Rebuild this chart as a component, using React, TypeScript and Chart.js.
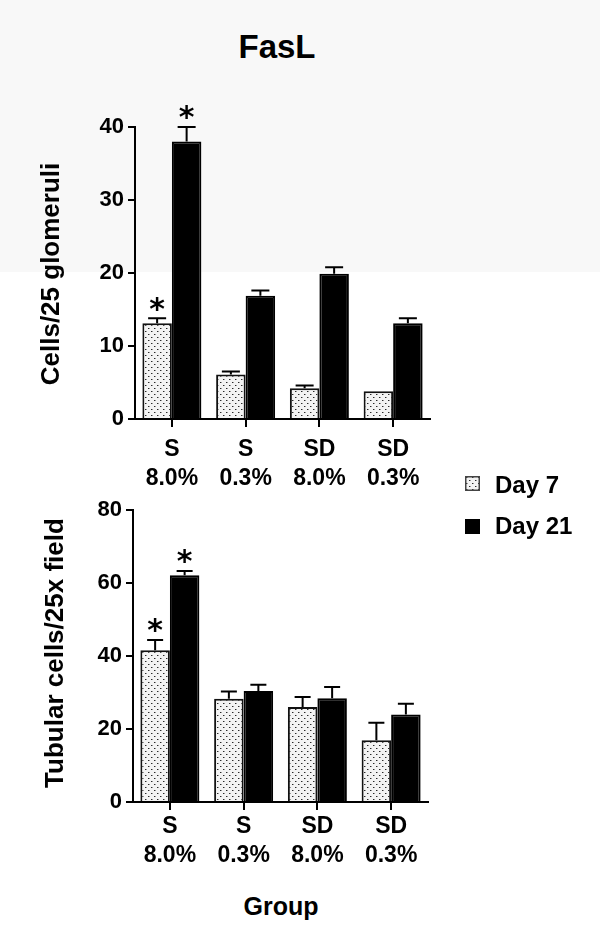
import React, { useEffect, useRef } from "react";
import { Chart, registerables } from "chart.js";

Chart.register(...registerables);

// ---------- data ----------
const groupLabels: string[][] = [
  ["S", "8.0%"],
  ["S", "0.3%"],
  ["SD", "8.0%"],
  ["SD", "0.3%"],
];
const seriesNames = ["Day 7", "Day 21"];

// Top panel: Cells/25 glomeruli
const glomDay7 = [13.1, 6.1, 4.2, 3.8];
const glomDay7Err = [0.7, 0.4, 0.4, 0];
const glomDay21 = [38.0, 16.9, 19.9, 13.1];
const glomDay21Err = [2.0, 0.7, 0.9, 0.7];
const glomDay7Sig = [true, false, false, false];
const glomDay21Sig = [true, false, false, false];
const glomTicks = [0, 10, 20, 30, 40];

// Bottom panel: Tubular cells/25x field
const tubDay7 = [41.6, 28.3, 26.0, 16.9];
const tubDay7Err = [2.8, 2.0, 2.8, 4.8];
const tubDay21 = [62.1, 30.4, 28.4, 24.0];
const tubDay21Err = [1.2, 1.7, 3.1, 2.9];
const tubDay7Sig = [true, false, false, false];
const tubDay21Sig = [true, false, false, false];
const tubTicks = [0, 20, 40, 60, 80];

const titleText = "FasL";
const glomAxisTitle = "Cells/25 glomeruli";
const tubAxisTitle = "Tubular cells/25x field";
const xAxisTitle = "Group";

const FONT = "'Liberation Sans', Arial, Helvetica, sans-serif";

function makeDotPattern(ctx: CanvasRenderingContext2D): CanvasPattern | string {
  const c = document.createElement("canvas");
  c.width = 6;
  c.height = 6;
  const g = c.getContext("2d");
  if (!g) return "#ddd";
  g.fillStyle = "#f3f3f3";
  g.fillRect(0, 0, 6, 6);
  g.fillStyle = "#2a2a2a";
  g.fillRect(1, 1, 1, 1);
  g.fillRect(4, 4, 1, 1);
  g.fillStyle = "#9a9a9a";
  g.fillRect(2, 1, 1, 1);
  g.fillRect(5, 4, 1, 1);
  return ctx.createPattern(c, "repeat") || "#ddd";
}

const errorBarPlugin = {
  id: "errorBars",
  afterDatasetsDraw(chart: any) {
    const ctx: CanvasRenderingContext2D = chart.ctx;
    const yScale = chart.scales.y;
    chart.data.datasets.forEach((ds: any, i: number) => {
      const meta = chart.getDatasetMeta(i);
      meta.data.forEach((el: any, j: number) => {
        const v = ds.data[j];
        const e = ds.errors ? ds.errors[j] : 0;
        const yTop = yScale.getPixelForValue(v + e);
        const cap = ds.capWidth || 16;
        ctx.save();
        ctx.strokeStyle = "#000";
        ctx.lineWidth = 2;
        if (e > 0) {
          ctx.beginPath();
          ctx.moveTo(el.x, el.y);
          ctx.lineTo(el.x, yTop);
          ctx.moveTo(el.x - cap / 2, yTop);
          ctx.lineTo(el.x + cap / 2, yTop);
          ctx.stroke();
        }
        if (ds.sig && ds.sig[j]) {
          const size = 30;
          ctx.fillStyle = "#000";
          ctx.font = `bold ${size}px 'DejaVu Sans', sans-serif`;
          ctx.textAlign = "center";
          ctx.textBaseline = "alphabetic";
          const cy = yTop - 17;
          ctx.fillText("*", el.x, cy + 0.58 * size);
        }
        ctx.restore();
      });
    });
  },
};

type PanelProps = {
  day7: number[];
  day7Err: number[];
  day7Sig: boolean[];
  day21: number[];
  day21Err: number[];
  day21Sig: boolean[];
  ticks: number[];
  top: number; // canvas top on page
  height: number;
  areaTop: number; // chart-area top within canvas
  axisLeft: number; // page x of y axis
  axisRight: number; // page x of chart right edge
  xAxisHeight: number;
  xLabelPad: number;
  capWidth: number;
};

function BarPanel(p: PanelProps) {
  const ref = useRef<HTMLCanvasElement | null>(null);
  useEffect(() => {
    const canvas = ref.current;
    if (!canvas) return;
    const ctx = canvas.getContext("2d");
    if (!ctx) return;
    const pattern = makeDotPattern(ctx);
    const tickFont = { family: FONT, size: 22, weight: "bold" as const };
    const xFont = { family: FONT, size: 23, weight: "bold" as const, lineHeight: 1.23 };
    const yMax = p.ticks[p.ticks.length - 1];
    const step = p.ticks[1] - p.ticks[0];
    const chart = new Chart(ctx, {
      type: "bar",
      data: {
        labels: groupLabels,
        datasets: [
          {
            label: seriesNames[0],
            data: p.day7,
            errors: p.day7Err,
            sig: p.day7Sig,
            capWidth: p.capWidth,
            backgroundColor: pattern,
            borderColor: "#111",
            borderWidth: 2,
            borderSkipped: "bottom",
          } as any,
          {
            label: seriesNames[1],
            data: p.day21,
            errors: p.day21Err,
            sig: p.day21Sig,
            capWidth: p.capWidth,
            backgroundColor: "#000",
            borderColor: "#000",
            borderWidth: 2,
            borderSkipped: "bottom",
          } as any,
        ],
      },
      options: {
        animation: false,
        responsive: false,
        maintainAspectRatio: false,
        events: [],
        layout: {
          padding: { top: p.areaTop, right: 600 - p.axisRight, left: 0, bottom: 0 },
        },
        datasets: {
          bar: { categoryPercentage: 0.8, barPercentage: 1.0 },
        },
        plugins: {
          legend: { display: false },
          tooltip: { enabled: false },
          title: { display: false },
        },
        scales: {
          x: {
            type: "category",
            offset: true,
            grid: {
              offset: false,
              drawOnChartArea: false,
              drawTicks: true,
              tickLength: 8,
              tickWidth: 2,
              tickColor: "#000",
              color: "#000",
              lineWidth: 2,
            },
            border: { display: true, color: "#000", width: 2 },
            ticks: {
              color: "#000",
              font: xFont,
              padding: p.xLabelPad,
              maxRotation: 0,
              autoSkip: false,
            },
            afterFit: (s: any) => {
              s.height = p.xAxisHeight;
            },
          },
          y: {
            min: 0,
            max: yMax,
            grid: {
              drawOnChartArea: false,
              drawTicks: true,
              tickLength: 7,
              tickWidth: 2,
              tickColor: "#000",
              color: "#000",
              lineWidth: 2,
            },
            border: { display: true, color: "#000", width: 2 },
            ticks: {
              stepSize: step,
              color: "#000",
              font: tickFont,
              padding: 4,
            },
            afterFit: (s: any) => {
              s.width = p.axisLeft;
            },
          },
        },
      } as any,
      plugins: [errorBarPlugin],
    });
    return () => chart.destroy();
  }, []);
  return (
    <canvas
      ref={ref}
      width={600}
      height={p.height}
      style={{ position: "absolute", left: 0, top: p.top, width: 600, height: p.height }}
    />
  );
}

function LegendBox({ filled }: { filled: boolean }) {
  const ref = useRef<HTMLCanvasElement | null>(null);
  useEffect(() => {
    const c = ref.current;
    if (!c) return;
    const ctx = c.getContext("2d");
    if (!ctx) return;
    ctx.clearRect(0, 0, 15, 15);
    if (filled) {
      ctx.fillStyle = "#000";
      ctx.fillRect(0, 0, 15, 15);
    } else {
      ctx.fillStyle = makeDotPattern(ctx);
      ctx.fillRect(0, 0, 15, 15);
      ctx.strokeStyle = "#444";
      ctx.lineWidth = 1.5;
      ctx.strokeRect(0.75, 0.75, 13.5, 13.5);
    }
  }, [filled]);
  return <canvas ref={ref} width={15} height={15} style={{ width: 15, height: 15, display: "block" }} />;
}

function Text({
  text,
  cx,
  baseline,
  size,
  left,
}: {
  text: string;
  cx?: number;
  baseline: number;
  size: number;
  left?: number;
}) {
  const top = baseline - 0.8465 * size;
  const style: React.CSSProperties = {
    position: "absolute",
    top,
    fontFamily: FONT,
    fontWeight: "bold",
    fontSize: size,
    lineHeight: `${size}px`,
    color: "#000",
    whiteSpace: "nowrap",
  };
  if (left !== undefined) {
    style.left = left;
  } else {
    style.left = (cx as number) - 200;
    style.width = 400;
    style.textAlign = "center";
  }
  return <div style={style}>{text}</div>;
}

function VText({ text, baselineX, cy, size }: { text: string; baselineX: number; cy: number; size: number }) {
  const cx = baselineX - 0.3465 * size;
  const w = 400;
  return (
    <div
      style={{
        position: "absolute",
        left: cx - w / 2,
        top: cy - size / 2,
        width: w,
        height: size,
        lineHeight: `${size}px`,
        fontFamily: FONT,
        fontWeight: "bold",
        fontSize: size,
        textAlign: "center",
        whiteSpace: "nowrap",
        color: "#000",
        transform: "rotate(-90deg)",
        transformOrigin: "50% 50%",
      }}
    >
      {text}
    </div>
  );
}

export default function App() {
  return (
    <div
      style={{
        position: "absolute",
        left: 0,
        top: 0,
        width: 600,
        height: 940,
        overflow: "hidden",
        background: "linear-gradient(to bottom, #f8f8f8 0px, #f8f8f8 272px, #ffffff 272px, #ffffff 940px)",
      }}
    >
      <Text text={titleText} cx={277} baseline={58} size={33} />
      <BarPanel
        day7={glomDay7}
        day7Err={glomDay7Err}
        day7Sig={glomDay7Sig}
        day21={glomDay21}
        day21Err={glomDay21Err}
        day21Sig={glomDay21Sig}
        ticks={glomTicks}
        top={90}
        height={400}
        areaTop={37}
        axisLeft={135}
        axisRight={430}
        xAxisHeight={71}
        xLabelPad={9}
        capWidth={18}
      />
      <BarPanel
        day7={tubDay7}
        day7Err={tubDay7Err}
        day7Sig={tubDay7Sig}
        day21={tubDay21}
        day21Err={tubDay21Err}
        day21Sig={tubDay21Sig}
        ticks={tubTicks}
        top={480}
        height={400}
        areaTop={30}
        axisLeft={133}
        axisRight={428}
        xAxisHeight={78}
        xLabelPad={3}
        capWidth={16}
      />
      <VText text={glomAxisTitle} baselineX={59} cy={274} size={26} />
      <VText text={tubAxisTitle} baselineX={63} cy={653} size={26} />
      <Text text={xAxisTitle} cx={281} baseline={915} size={25} />
      <div style={{ position: "absolute", left: 465, top: 476 }}>
        <LegendBox filled={false} />
      </div>
      <Text text={seriesNames[0]} left={495} baseline={493} size={24} />
      <div style={{ position: "absolute", left: 465, top: 519 }}>
        <LegendBox filled={true} />
      </div>
      <Text text={seriesNames[1]} left={495} baseline={534} size={24} />
    </div>
  );
}
